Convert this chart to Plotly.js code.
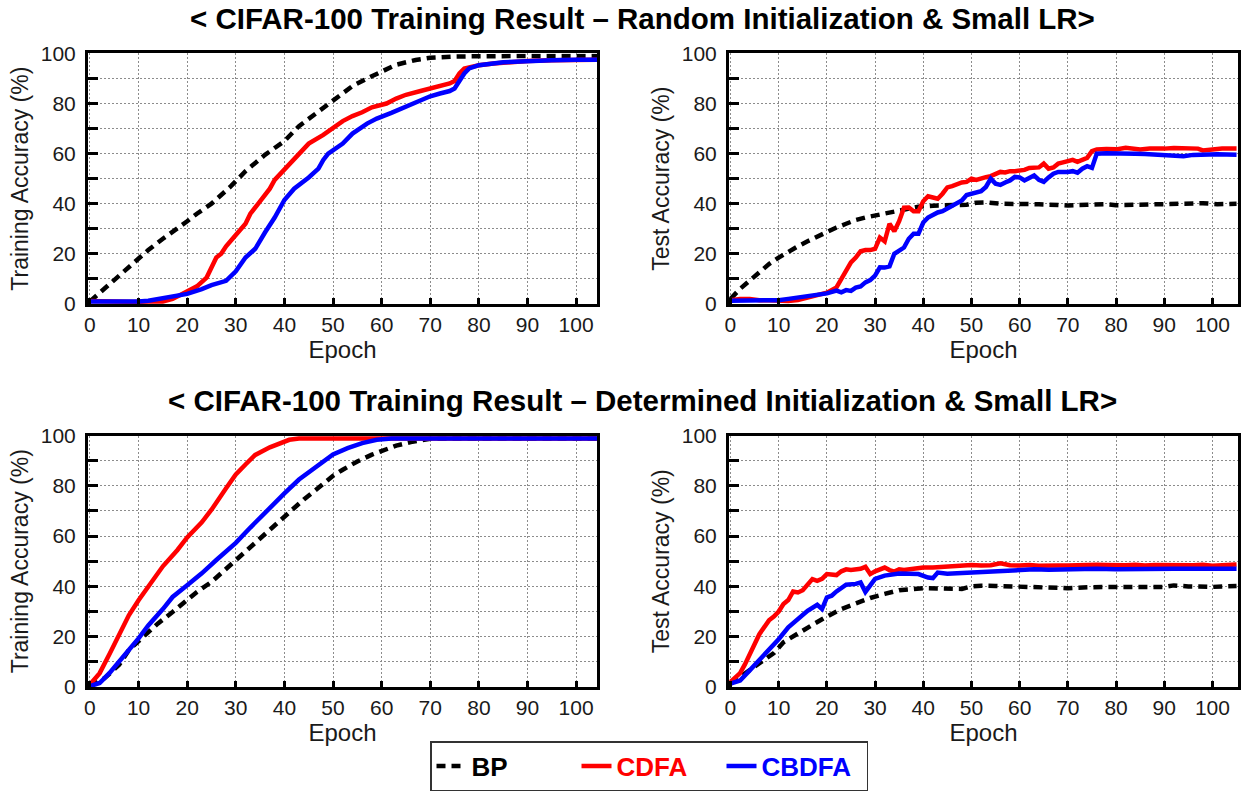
<!DOCTYPE html>
<html>
<head>
<meta charset="utf-8">
<script src="https://cdn.plot.ly/plotly-3.0.1.min.js"></script>
<style>html,body{margin:0;padding:0;background:#fff;} #chart{width:1251px;height:791px;}</style>
</head>
<body>
<div id="chart"></div>
<script>
// ---------- Data ----------
const seriesNames = ["BP", "CDFA", "CBDFA"];
const panelTitles = [
  "&lt; CIFAR-100 Training Result \u2013 Random Initialization &amp; Small LR&gt;",
  "&lt; CIFAR-100 Training Result \u2013 Determined Initialization &amp; Small LR&gt;"
];
const xTitle = "Epoch";
const yTitleTrain = "Training Accuracy (%)";
const yTitleTest = "Test Accuracy (%)";

// Panel A: training accuracy, random initialization
const bpA_x = [0,2,5,8,10,12,15,18,20,22,25,29,32,36,40,43,47,50,54,57,60,63,67,70,75,80,90,100,105];
const bpA_y = [1,4.5,9.5,15,18,21.5,26,30,33,36,40,47,53,59.5,65,71,77,81.5,87,90,92.8,95.5,97.4,98.3,98.8,99,99,99,99];
const cdfaA_x = [0,3,6,9,12,15,17,19,20,22,24,25,26,27,28,30,32,33,35,37,38,39,41,43,45,48,50,52,54,56,58,59,61,63,65,68,70,72,74,75,76,77,78,80,83,86,90,95,100,105];
const cdfaA_y = [1.2,1,1,0.8,1,1,2,4,5,7,10.5,15,18.5,20,23,27.5,32,36,41,46,49.5,51.5,56,60,64,67.5,70.5,73,75,76.5,78.5,79,80,82,83.5,85,86,87,88,89,92,94,94.5,95.3,96,96.5,97,97.3,97.5,97.5];
const cbdfaA_x = [0,4,8,10,12,14,16,18,20,23,25,28,30,32,34,36,38,40,42,45,47,48,49,52,54,57,59,62,64,67,70,72,74,75,76,77,78,80,85,90,95,100,105];
const cbdfaA_y = [1,1,0.8,1,1.3,2,2.5,3.2,4,5.9,7.5,9.2,13,18.5,22,28.5,34.5,41.5,46,50.5,54,57.5,60,64,68,72,74,76.3,78,80.3,82.9,84,85,86,89,92,94,95.3,96.5,97,97.3,97.5,97.5];

// Panel B: test accuracy, random initialization
const bpB_x = [0,2,4,6,8,10,12,14,16,18,20,22,24,26,28,30,33,36,39,42,46,49,51,53,56,60,64,68,70,74,78,80,84,88,92,95,98,101,105];
const bpB_y = [2,6,9.3,12.6,15.9,18.5,21,23,25,27,28.8,30.5,32,33.5,34.5,35.3,36.5,38,38.8,39.2,39.3,39.6,40.4,40.5,40,40,39.8,39.5,39.3,39.6,39.8,39.4,39.6,39.8,40,40.5,40.2,39.8,40];
const cdfaB_x = [0,2,4,6,8,10,12,14,16,18,20,22,23,24,25,26,27,28,29,30,31,32,33,34,35,36,37,38,39,40,41,42,43,44,45,46,47,48,49,50,51,52,53,54,55,56,57,58,59,60,61,62,63,64,65,66,67,68,69,70,71,72,73,74,75,76,78,80,82,84,85,87,89,90,92,95,97,98,100,102,105];
const cdfaB_y = [1.5,2,2,1.5,1.5,1.2,1.2,1.5,2.5,3.5,4.5,6.6,10,14,16.6,18.5,21,21.5,21.5,22,26.5,25,32,29,33,38.4,38.5,37,37,41,43,42.5,42,44,46.5,47,48,48.5,48.7,50,49.5,50.2,50.6,51,51.8,52.7,52.5,53,53,53.3,53.5,54.3,54.5,54.5,56,54,54.5,56,56.5,57,57.5,56.7,57.5,58.3,61,61.7,61.8,61.7,62.3,62,61.7,62,61.8,62,62.2,62.3,62,61.3,61.8,62,62];
const cbdfaB_x = [0,4,8,10,12,14,16,18,20,22,23,24,25,26,27,28,29,30,31,32,33,34,35,36,37,38,39,40,41,42,43,44,45,46,47,48,49,50,51,52,53,54,55,56,57,58,59,60,61,62,63,64,65,66,67,68,69,70,71,72,73,74,75,76,78,80,82,84,86,88,90,92,94,96,98,99,101,105];
const cbdfaB_y = [1.3,1.3,1.3,1.5,2,2.5,3,3.8,4.2,5.3,4.6,5.5,5.2,6.5,7,8.6,9.5,11.3,14.6,14.5,15,20,21,22.5,26,28,28,32.5,34.5,35.5,36.5,37,38,39.5,40.5,41.3,43.5,44,44.5,45,46.7,50,48,47.5,48.5,49.3,50.7,50.5,49.3,50.5,51.3,49.5,48.7,50.5,52,52.7,52.5,52.7,53,52.4,54,55,54.3,60,60.2,60,60.2,60,59.9,59.7,59.6,59.5,59,59.5,59.7,60,59.8,59.6];

// Panel C: training accuracy, determined initialization
const bpC_x = [0,3,6,8,11,14,17,19,22,25,28,30,33,36,39,41,44,47,50,52,55,58,61,63,66,68,70,75,80,90,100,105];
const bpC_y = [0.3,3.5,8.8,14.7,20,25.3,29.8,33.2,37.8,41.8,47,50.5,55.5,60.3,66,69.5,74.6,79.2,84,86.4,89.7,92.4,94.6,96,97.4,98.2,98.7,98.8,98.8,98.8,98.8,98.8];
const cdfaC_x = [0,2,4,6,8,10,12,15,18,20,23,25,28,30,32,34,37,39,41,43,45,50,60,80,105];
const cdfaC_y = [1,5.5,13,21,28.5,34.5,40,48,54.5,59.5,65.5,70.5,79,84.5,88.5,92.3,95.3,97,98.3,98.8,98.8,98.8,98.8,98.8,98.8];
const cbdfaC_x = [0,2,4,6,8,10,12,15,17,20,23,26,30,33,36,40,43,47,50,53,56,59,62,70,80,105];
const cbdfaC_y = [0.3,1.6,5.5,9.8,14.7,19.3,24.5,31,35.8,40.5,45.2,50.5,57.3,63.4,69.5,77,82.5,88.3,92.5,95,97,98.3,98.8,98.8,98.8,98.8];

// Panel D: test accuracy, determined initialization
const bpD_x = [0,3,6,9,11,14,17,20,23,26,29,32,35,40,45,48,50,52,55,60,65,68,70,75,80,85,90,92,95,100,105];
const bpD_y = [1.3,5.3,9,13.5,17.8,21,24.7,28,31,33.2,35.4,37,38.5,39.3,39.3,39,40,40.3,40.2,40,39.8,39.6,39.3,39.7,39.6,39.8,39.8,40.4,40,39.8,40.2];
const cdfaD_x = [0,1,2,3,4,5,6,7,8,9,10,11,12,13,14,15,16,17,18,19,20,21,22,23,24,25,26,27,28,29,30,31,32,33,34,35,36,38,40,42,44,46,48,50,52,54,56,58,60,62,64,66,68,70,72,74,76,78,80,82,84,86,88,90,92,94,96,98,100,102,105];
const cdfaD_y = [2,3.5,5.5,9,13.5,17,21,24,26.5,28,30,33,34.6,38,37.6,38.5,41,42.9,42.2,43,44.9,44.6,44.5,46,46.8,46.5,46.8,47,47.8,44.9,46,46.8,47.5,46.5,45.9,46.8,46.5,47,47.5,47.5,47.8,48.3,48.5,48.5,48.3,48.4,49.2,48.4,48.3,48.5,48.2,48.4,48.3,48.3,48.5,48.3,48.6,48.5,48.3,48.4,48.6,48.3,48.5,48.4,48.6,48.5,48.4,48.6,48.2,48.4,48.7];
const cbdfaD_x = [0,2,4,6,8,10,12,14,16,18,19,20,21,22,23,24,26,27,28,29,30,32,33,35,37,39,41,42,43,45,47,50,53,56,60,63,66,70,73,76,80,84,88,92,96,100,105];
const cbdfaD_y = [1.3,2.6,6.6,10.6,14.5,19,23.7,27,30.3,32.7,31,35.6,36.3,38,39.5,40.7,41,41.6,37.8,40.2,43,44.3,44.5,45.1,45,44.9,43.5,43.3,45.5,45,45.2,45.5,46,46,46.3,46.8,46.6,46.8,47,47,46.8,47,46.9,47,47,46.8,47];

// ---------- Styles ----------
const colors = ["#000000", "#ff0000", "#0000ff"];
const FONT = "Liberation Sans, Arial, sans-serif";

const panels = [
  {xs: [bpA_x, cdfaA_x, cbdfaA_x], ys: [bpA_y, cdfaA_y, cbdfaA_y], ax: ""},
  {xs: [bpB_x, cdfaB_x, cbdfaB_x], ys: [bpB_y, cdfaB_y, cbdfaB_y], ax: "2"},
  {xs: [bpC_x, cdfaC_x, cbdfaC_x], ys: [bpC_y, cdfaC_y, cbdfaC_y], ax: "3"},
  {xs: [bpD_x, cdfaD_x, cbdfaD_x], ys: [bpD_y, cdfaD_y, cbdfaD_y], ax: "4"}
];

const traces = [];
panels.forEach((p, pi) => {
  for (let s = 0; s < 3; s++) {
    const legendName = s === 0 ? seriesNames[s]
      : '<span style="color:' + colors[s] + '">' + seriesNames[s] + '</span>';
    traces.push({
      type: "scatter", mode: "lines",
      x: p.xs[s], y: p.ys[s],
      xaxis: "x" + p.ax, yaxis: "y" + p.ax,
      name: legendName,
      showlegend: pi === 0,
      line: {color: colors[s], width: 4.5, dash: s === 0 ? "9px,6px" : "solid"},
      hoverinfo: "x+y"
    });
  }
});

function xAxis(domain, range, anchor) {
  return {
    domain: domain, range: range, anchor: anchor,
    tick0: 0, dtick: 10, ticks: "inside", ticklen: 6, tickwidth: 3, tickcolor: "#000",
    showline: true, linewidth: 3, linecolor: "#000", mirror: true,
    showgrid: true, gridcolor: "#8c8c8c", gridwidth: 1, griddash: "2px,2px",
    zeroline: false,
    tickfont: {family: FONT, size: 21, color: "#1a1a1a"},
    title: {text: xTitle, font: {family: FONT, size: 24, color: "#1a1a1a"}, standoff: 0}
  };
}
function yAxis(domain, anchor, title) {
  return {
    domain: domain, range: [0, 100], anchor: anchor,
    tick0: 0, dtick: 20, ticks: "inside", ticklen: 10, tickwidth: 3, tickcolor: "#000",
    minor: {dtick: 10, ticks: "inside", ticklen: 10, tickwidth: 3, tickcolor: "#000",
            showgrid: true, gridcolor: "#8c8c8c", gridwidth: 1, griddash: "2px,2px"},
    showline: true, linewidth: 3, linecolor: "#000", mirror: true,
    showgrid: true, gridcolor: "#8c8c8c", gridwidth: 1, griddash: "2px,2px",
    zeroline: false,
    tickfont: {family: FONT, size: 21, color: "#1a1a1a"},
    ticklabelstandoff: 5,
    title: {text: title, font: {family: FONT, size: 23, color: "#1a1a1a"}, standoff: 6}
  };
}

const W = 1251, H = 791;
const leftDom = [88 / W, 597 / W], rightDom = [729 / W, 1238 / W];
const topDom = [(H - 307) / H, (H - 54) / H], botDom = [(H - 694) / H, (H - 440) / H];

const layout = {
  width: W, height: H,
  margin: {l: 0, r: 0, t: 0, b: 0},
  paper_bgcolor: "#fff", plot_bgcolor: "#fff",
  font: {family: FONT, color: "#000"},
  xaxis: xAxis(leftDom, [-0.4, 104.3], "y"),
  yaxis: yAxis(topDom, "x", yTitleTrain),
  xaxis2: xAxis(rightDom, [-0.3, 105.3], "y2"),
  yaxis2: yAxis(topDom, "x2", yTitleTest),
  xaxis3: xAxis(leftDom, [-0.4, 104.3], "y3"),
  yaxis3: yAxis(botDom, "x3", yTitleTrain),
  xaxis4: xAxis(rightDom, [-0.3, 105.3], "y4"),
  yaxis4: yAxis(botDom, "x4", yTitleTest),
  showlegend: true,
  legend: {
    orientation: "h", x: 430 / W, y: 42 / H, xanchor: "left", yanchor: "top",
    bgcolor: "#fff", bordercolor: "#333", borderwidth: 1.5,
    font: {family: FONT, size: 26, weight: "bold", color: "#000"},
    entrywidth: 100, itemwidth: 30, traceorder: "normal"
  },
  annotations: [
    {text: "<b>" + panelTitles[0] + "</b>", x: 642 / W, y: (H - 19) / H, xref: "paper", yref: "paper",
     xanchor: "center", yanchor: "middle", showarrow: false,
     font: {family: FONT, size: 29.5, color: "#000"}},
    {text: "<b>" + panelTitles[1] + "</b>", x: 642 / W, y: (H - 405) / H, xref: "paper", yref: "paper",
     xanchor: "center", yanchor: "middle", showarrow: false,
     font: {family: FONT, size: 29.5, color: "#000"}}
  ]
};

Plotly.newPlot("chart", traces, layout, {displayModeBar: false, staticPlot: true});
</script>
</body>
</html>
